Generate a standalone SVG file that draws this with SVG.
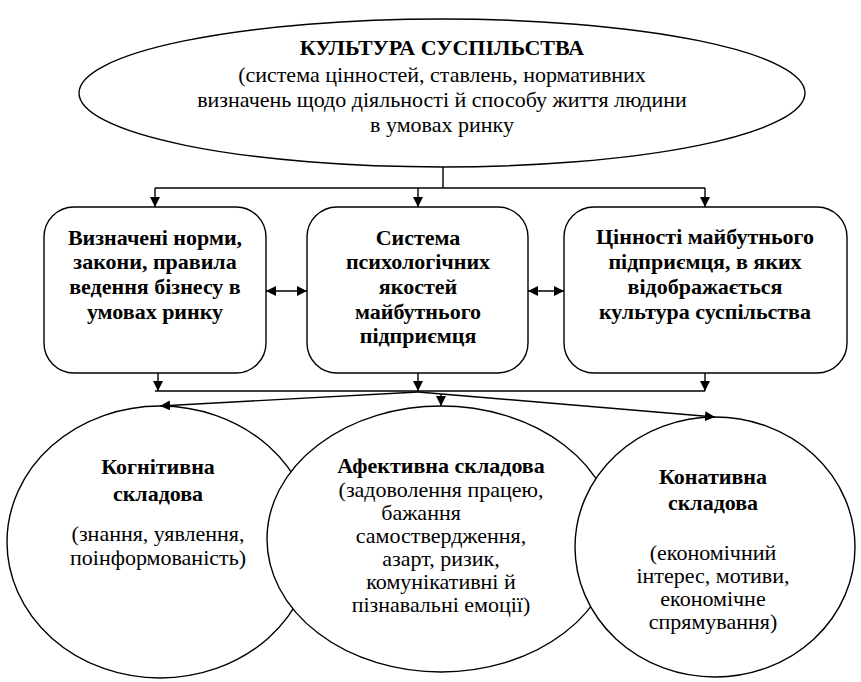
<svg xmlns="http://www.w3.org/2000/svg" width="861" height="682" viewBox="0 0 861 682">
<defs>
<marker id="ah" viewBox="0 0 10 10" refX="10" refY="5" markerWidth="10" markerHeight="10" markerUnits="userSpaceOnUse" orient="auto-start-reverse">
<path d="M0,0 L10,5 L0,10 Z" fill="#000"/>
</marker>
<style>
.shape{fill:#fff;stroke:#000;stroke-width:1.4}
.ln{fill:none;stroke:#000;stroke-width:1.4}
.t{font-family:"Liberation Serif",serif;font-size:22px;text-anchor:middle;fill:#000}
.b{font-weight:bold}
</style>
</defs>
<rect width="861" height="682" fill="#fff"/>
<g id="culture">
<ellipse class="shape" cx="442" cy="93" rx="363" ry="74"/>
<text class="t b" x="442" y="55">КУЛЬТУРА СУСПІЛЬСТВА</text>
<text class="t" x="442" y="82">(система цінностей, ставлень, нормативних</text>
<text class="t" x="442" y="107">визначень щодо діяльності й способу життя людини</text>
<text class="t" x="442" y="132">в умовах ринку</text>
</g>
<g id="norms">
<rect class="shape" x="44" y="207" width="222" height="166" rx="30"/>
<text class="t b" x="155" y="245">Визначені норми,</text>
<text class="t b" x="155" y="269">закони, правила</text>
<text class="t b" x="155" y="294">ведення бізнесу в</text>
<text class="t b" x="155" y="319">умовах ринку</text>
</g>
<g id="psych">
<rect class="shape" x="307" y="207" width="221" height="166" rx="30"/>
<text class="t b" x="418" y="245">Система</text>
<text class="t b" x="418" y="269">психологічних</text>
<text class="t b" x="418" y="294">якостей</text>
<text class="t b" x="418" y="319">майбутнього</text>
<text class="t b" x="418" y="343">підприємця</text>
</g>
<g id="values">
<rect class="shape" x="564" y="207" width="283" height="166" rx="30"/>
<text class="t b" x="705" y="244">Цінності майбутнього</text>
<text class="t b" x="705" y="269">підприємця, в яких</text>
<text class="t b" x="705" y="294">відображається</text>
<text class="t b" x="705" y="319">культура суспільства</text>
</g>
<g id="cognitive">
<ellipse class="shape" cx="160" cy="542" rx="153" ry="136"/>
<text class="t b" x="158" y="474">Когнітивна</text>
<text class="t b" x="158" y="501">складова</text>
<text class="t" x="158" y="541">(знання, уявлення,</text>
<text class="t" x="158" y="565">поінформованість)</text>
</g>
<g id="affective">
<ellipse class="shape" cx="441" cy="539" rx="174" ry="133"/>
<text class="t b" x="441" y="473">Афективна складова</text>
<text class="t" x="441" y="497">(задоволення працею,</text>
<text class="t" x="421" y="520">бажання</text>
<text class="t" x="441" y="543">самоствердження,</text>
<text class="t" x="441" y="566">азарт, ризик,</text>
<text class="t" x="441" y="589">комунікативні й</text>
<text class="t" x="441" y="612">пізнавальні емоції)</text>
</g>
<g id="conative">
<ellipse class="shape" cx="715" cy="547" rx="140" ry="130"/>
<text class="t b" x="713" y="484">Конативна</text>
<text class="t b" x="713" y="510">складова</text>
<text class="t" x="713" y="560">(економічний</text>
<text class="t" x="713" y="583">інтерес, мотиви,</text>
<text class="t" x="713" y="606">економічне</text>
<text class="t" x="713" y="629">спрямування)</text>
</g>
<g id="connectors">
<path class="ln" d="M443,167 V188"/>
<path class="ln" d="M155,188 H705"/>
<path class="ln" d="M155,188 V207" marker-end="url(#ah)"/>
<path class="ln" d="M418,188 V207" marker-end="url(#ah)"/>
<path class="ln" d="M705,188 V207" marker-end="url(#ah)"/>
<path class="ln" d="M266,291 H307" marker-start="url(#ah)" marker-end="url(#ah)"/>
<path class="ln" d="M528,291 H564" marker-start="url(#ah)" marker-end="url(#ah)"/>
<path class="ln" d="M158,373 V391" marker-end="url(#ah)"/>
<path class="ln" d="M418,373 V391" marker-end="url(#ah)"/>
<path class="ln" d="M705,373 V391" marker-end="url(#ah)"/>
<path class="ln" d="M155,391 H705"/>
<path class="ln" d="M418,392 L160,406" marker-end="url(#ah)"/>
<path class="ln" d="M418,392 L715,417" marker-end="url(#ah)"/>
<path class="ln" d="M441,394 V406" marker-end="url(#ah)"/>
</g>
</svg>
